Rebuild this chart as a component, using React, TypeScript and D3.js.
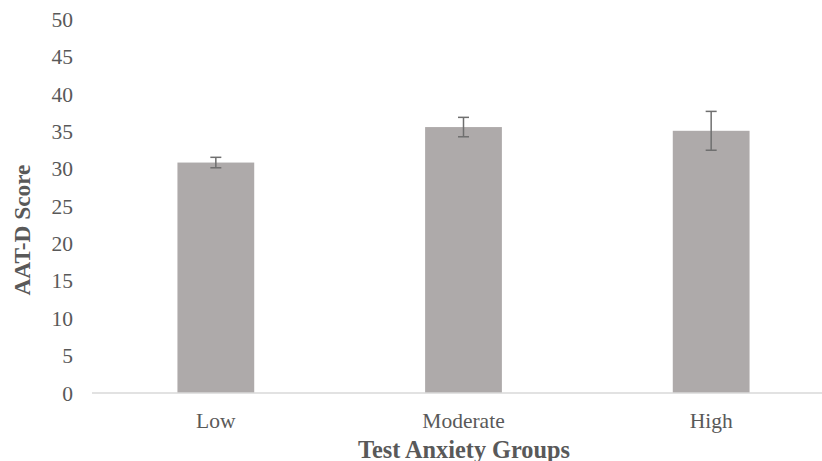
import React, { useEffect } from 'react'
import { scaleBand, scaleLinear, range } from 'd3'

// values
const groups = ['Low', 'Moderate', 'High']
const means = [30.85, 35.6, 35.1]
const errors = [0.7, 1.3, 2.6]
const yTicks = range(0, 51, 5)

const width = 822
const height = 461
const margin = { top: 19.5, right: -13, bottom: 68, left: 92 }

export default function App() {

    useEffect(() => {
        document.body.style.margin = '0'
    }, [])

    const x = scaleBand<string>()
        .domain(groups)
        .range([margin.left, width - margin.right])
        .paddingInner(0.69)
        .paddingOuter(0.345)

    const y = scaleLinear()
        .domain([0, 50])
        .range([height - margin.bottom, margin.top])

    const font = '"Liberation Serif", "Times New Roman", serif'
    const capW = 11

    return (
        <svg width={width} height={height} style={{ display: 'block', background: '#fff' }} fontFamily={font}>
            {/* y tick labels */}
            {yTicks.map(t => (
                <text key={t} x={73} y={y(t)} dy="0.35em" textAnchor="end" fontSize={21.5} fill="#595959">{t}</text>
            ))}

            {/* bars */}
            {groups.map((g, i) => (
                <rect key={g} x={x(g)} y={y(means[i])} width={x.bandwidth()} height={y(0) - y(means[i])} fill="#aeaaaa" />
            ))}

            {/* baseline */}
            <line x1={margin.left} x2={width} y1={y(0)} y2={y(0)} stroke="#d9d9d9" strokeWidth={1.3} />

            {/* error bars */}
            {groups.map((g, i) => {
                const cx = (x(g) ?? 0) + x.bandwidth() / 2
                const hi = y(means[i] + errors[i])
                const lo = y(means[i] - errors[i])
                return (
                    <g key={g} stroke="#6f6f6f" strokeWidth={1.5}>
                        <line x1={cx} x2={cx} y1={hi} y2={lo} />
                        <line x1={cx - capW / 2} x2={cx + capW / 2} y1={hi} y2={hi} />
                        <line x1={cx - capW / 2} x2={cx + capW / 2} y1={lo} y2={lo} />
                    </g>
                )
            })}

            {/* x tick labels */}
            {groups.map(g => (
                <text key={g} x={(x(g) ?? 0) + x.bandwidth() / 2} y={420} dy="0.35em" textAnchor="middle" fontSize={21.5} fill="#595959">{g}</text>
            ))}

            {/* axis titles */}
            <text x={464} y={449} dy="0.35em" textAnchor="middle" fontSize={24.3} fontWeight="bold" fill="#595959">Test Anxiety Groups</text>
            <text transform="translate(22,230) rotate(-90)" dy="0.35em" textAnchor="middle" fontSize={23.3} fontWeight="bold" fill="#595959">AAT-D Score</text>
        </svg>
    )
}
